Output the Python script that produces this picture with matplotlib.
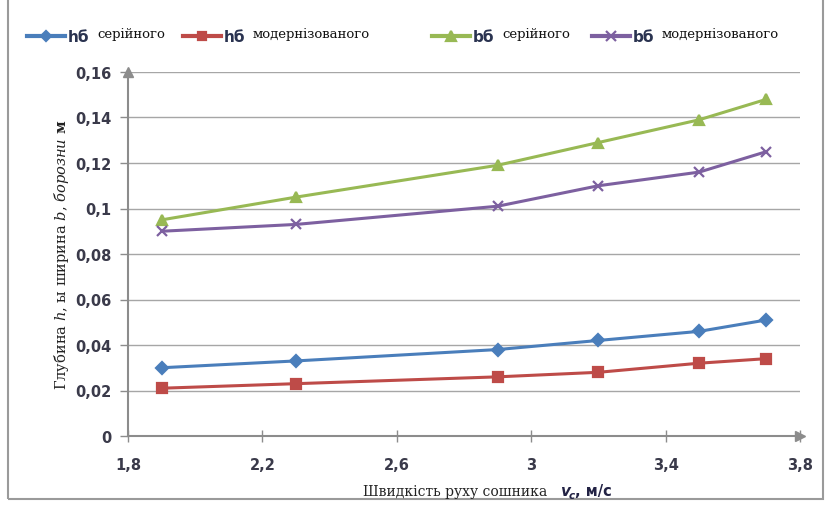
import matplotlib.pyplot as plt
from matplotlib.lines import Line2D
from matplotlib.patches import Rectangle

# швидкість руху сошника, м/с
v = [1.9, 2.3, 2.9, 3.2, 3.5, 3.7]

h_serial = [0.030, 0.033, 0.038, 0.042, 0.046, 0.051]
h_modern = [0.021, 0.023, 0.026, 0.028, 0.032, 0.034]
b_serial = [0.095, 0.105, 0.119, 0.129, 0.139, 0.148]
b_modern = [0.090, 0.093, 0.101, 0.110, 0.116, 0.125]

xticks = [1.8, 2.2, 2.6, 3.0, 3.4, 3.8]
xticklabels = ['1,8', '2,2', '2,6', '3', '3,4', '3,8']
yticks = [0, 0.02, 0.04, 0.06, 0.08, 0.10, 0.12, 0.14, 0.16]
yticklabels = ['0', '0,02', '0,04', '0,06', '0,08', '0,1', '0,12', '0,14', '0,16']

plt.rcParams['mathtext.fontset'] = 'dejavuserif'

W, H = 831, 510
fig = plt.figure(figsize=(W / 100, H / 100), dpi=100)
ax = fig.add_axes([128 / W, 1 - 437 / H, (800 - 128) / W, (437 - 73) / H])

series = [
    (h_serial, '#4A7EBB', 'D', 6.5, 'hб', 'серійного'),
    (h_modern, '#BE4B48', 's', 6.5, 'hб', 'модернізованого'),
    (b_serial, '#98B954', '^', 7.5, 'bб', 'серійного'),
    (b_modern, '#7D60A0', 'x', 7.5, 'bб', 'модернізованого'),
]
for y, c, m, ms, _, _ in series:
    ax.plot(v, y, color=c, lw=2.2, marker=m, ms=ms, mew=1.6, clip_on=False, zorder=3)

ax.set_xlim(1.8, 3.8)
ax.set_ylim(0, 0.16)
ax.set_xticks(xticks)
ax.set_xticklabels(xticklabels)
ax.set_yticks(yticks)
ax.set_yticklabels(yticklabels)
ax.grid(axis='y', color='#A6A6A6', lw=1)
ax.set_axisbelow(True)

for s in ['top', 'right']:
    ax.spines[s].set_visible(False)
for s in ['left', 'bottom']:
    ax.spines[s].set_color('#8C8C8C')
    ax.spines[s].set_linewidth(1.5)
ax.tick_params(axis='x', direction='inout', length=8, color='#8C8C8C', width=1,
               labelsize=10.5, labelcolor='#3A3A4A', pad=11)
ax.tick_params(axis='y', direction='out', length=6, color='#8C8C8C', width=1,
               labelsize=10.5, labelcolor='#3A3A4A', pad=6)
for lab in ax.get_xticklabels() + ax.get_yticklabels():
    lab.set_fontweight('bold')

# стрілки на осях
ax.plot(1, 0, '>', color='#8C8C8C', ms=7, transform=ax.transAxes, clip_on=False)
ax.plot(0, 1, '^', color='#8C8C8C', ms=7, transform=ax.transAxes, clip_on=False)

# підписи осей
fig.text(62 / W, 1 - 255 / H, 'Глубина $h$, ы ширина $b$, $\\mathit{борозни}$ $\\mathbf{м}$',
         rotation=90, ha='center', va='center', family='DejaVu Serif', fontsize=10.5,
         color='#222222')
fig.text(455 / W, 1 - 492 / H, 'Швидкість руху сошника', ha='center', va='center',
         family='DejaVu Serif', fontsize=10, color='#222222')
fig.text(560 / W, 1 - 492 / H, 'v', ha='left', va='center', fontsize=11,
         fontweight='bold', fontstyle='italic', color='#222244')
fig.text(569 / W, 1 - 496 / H, 'c', ha='left', va='center', fontsize=7.5,
         fontweight='bold', fontstyle='italic', color='#222244')
fig.text(575 / W, 1 - 492 / H, ', м/с', ha='left', va='center', fontsize=10.5,
         fontweight='bold', color='#222244')

# легенда
leg_pos = [27, 183, 432, 592]
ly = 1 - 37 / H
for (y, c, m, ms, sym, desc), x0 in zip(series, leg_pos):
    fig.add_artist(Line2D([x0 / W, (x0 + 38) / W], [ly, ly], color=c, lw=3,
                          transform=fig.transFigure))
    fig.add_artist(Line2D([(x0 + 19) / W], [ly], color=c, marker=m, ms=ms - 1, mew=1.6,
                          transform=fig.transFigure))
    fig.text((x0 + 41) / W, ly, sym, ha='left', va='center', fontsize=11,
             fontweight='bold', color='#2A3350')
    fig.text((x0 + 70) / W, ly + 0.004, desc, ha='left', va='center',
             family='DejaVu Serif', fontsize=9.5, color='#111111')

# рамка діаграми
fig.add_artist(Rectangle((8 / W, 1 - 500 / H), (823 - 8) / W, 1, fill=False,
                         edgecolor='#9A9A9A', lw=1.5, transform=fig.transFigure))

fig.savefig('out.png', dpi=100)
